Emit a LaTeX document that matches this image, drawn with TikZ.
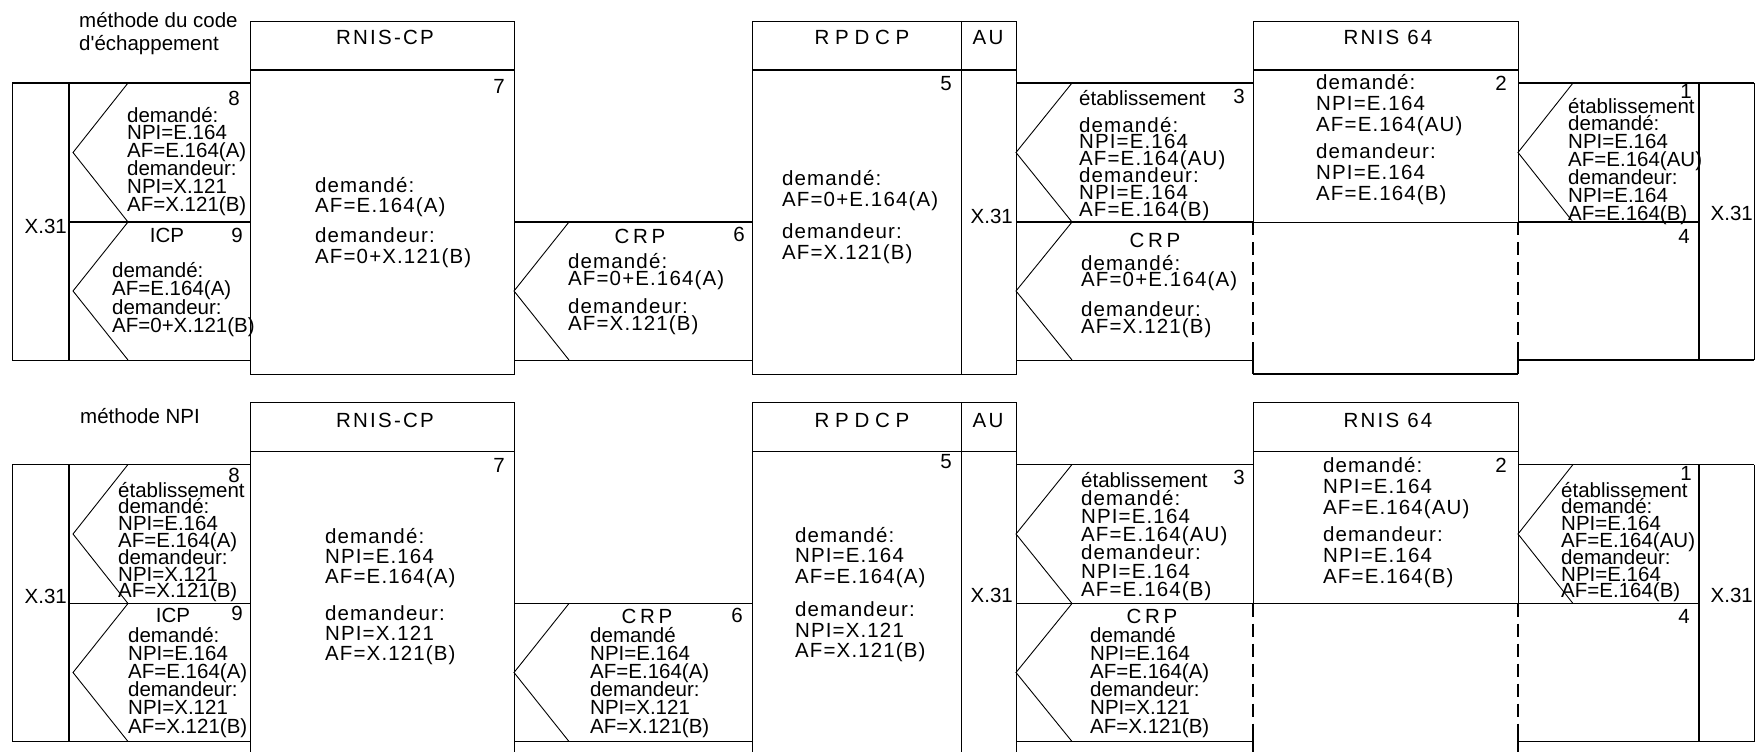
\documentclass[tikz,border=0pt]{standalone}
\usepackage{fontspec}
\setmainfont{Liberation Sans}
\newfontfamily\plainf{Liberation Sans}
\newfontfamily\spfont[LetterSpace=5.5]{Liberation Sans}
\newfontfamily\hdA[LetterSpace=11]{Liberation Sans}
\newfontfamily\hdB[LetterSpace=28]{Liberation Sans}
\newfontfamily\hdC[LetterSpace=18]{Liberation Sans}
\newcommand\blk[2]{\vtop{\baselineskip=#1pt\lineskiplimit=-100pt\lineskip=0pt\relax #2}}
\newcommand\rl[1]{\hbox{#1}}
\tikzset{
  thinl/.style={line width=0.9pt},
  thickl/.style={line width=1.5pt},
  dashl/.style={line width=1.3pt, dash pattern=on 13pt off 7pt},
  nt/.style={inner sep=0pt, anchor=base west, font=\fontsize{20.5}{20}\selectfont},
  ntr/.style={nt, anchor=base east},
  ntc/.style={nt, anchor=base},
  st/.style={nt, font=\fontsize{20.5}{20}\selectfont\spfont},
}
\newcommand\panelframe{%
  % left section
  \draw[thinl] (12,83) -- (12,360);
  \draw[thickl] (12,83) -- (250,83);
  \draw[thinl] (12,360) -- (250,360);
  \draw[thickl] (69,83) -- (69,360);
  \draw[thickl] (69,222) -- (250,222);
  \draw[thinl] (128,83) -- (73,152.5) -- (128,222) -- (73,291) -- (128,360);
  % RNIS-CP
  \draw[thinl] (250,21) rectangle (514,374);
  \draw[thickl] (250,70) -- (514,70);
  % CRP 6
  \draw[thickl] (514,222) -- (752,222);
  \draw[thinl] (514,360) -- (752,360);
  \draw[thinl] (569,222) -- (514,291) -- (569,360);
  % RPDCP + AU
  \draw[thinl] (752,21) rectangle (1016,374);
  \draw[thinl] (961,21) -- (961,374);
  \draw[thickl] (752,70) -- (1016,70);
  % region 3
  \draw[thickl] (1016,83) -- (1253,83);
  \draw[thickl] (1016,222) -- (1253,222);
  \draw[thinl] (1016,360) -- (1253,360);
  \draw[thinl] (1072,83) -- (1016,152.5) -- (1072,222) -- (1016,291) -- (1072,360);
  % RNIS 64
  \draw[thinl] (1253,222) -- (1253,21) -- (1518,21) -- (1518,222);
  \draw[thickl] (1253,70) -- (1518,70);
  \draw[thinl] (1253,222) -- (1518,222);
  \draw[dashl] (1253,222) -- (1253,347);
  \draw[thickl] (1253,347) -- (1253,374);
  \draw[dashl] (1518,222) -- (1518,347);
  \draw[thickl] (1518,347) -- (1518,374);
  \draw[thickl] (1253,374) -- (1518,374);
  % right section
  \draw[thickl] (1518,83) -- (1754,83);
  \draw[thinl] (1754,83) -- (1754,360);
  \draw[thickl] (1699,83) -- (1699,360);
  \draw[thickl] (1518,222) -- (1699,222);
  \draw[thickl] (1518,360) -- (1754,360);
  \draw[thinl] (1573,83) -- (1518,152.5) -- (1573,222);
}
\begin{document}
\begin{tikzpicture}[x=1pt,y=-1pt]
\useasboundingbox (0,0) rectangle (1756,752);
\begin{scope}
\clip (0,0) rectangle (1756,752);
\panelframe
\begin{scope}[yshift=-381.5pt]
\panelframe
\end{scope}
\end{scope}

% ================= TOP PANEL =================
\node[nt] (ttitle) at (79,28) {\plainf\blk{23}{\rl{méthode du code}\rl{d'échappement}}};
\node[ntc] (th1) at (385,45) {\hdA RNIS-CP};
\node[ntc] (th2) at (862,45) {\hdB RPDCP};
\node[ntc] (th3) at (988,45) {\hdA AU};
\node[ntc] (th4) at (1388,45) {\hdA RNIS 64};

\node[ntr] (tx1) at (67,233) {X.31};
\node[ntr] (tn8) at (240,105) {8};
\node[nt] (tb8) at (127,122) {\blk{17.8}{\rl{demandé:}\rl{NPI=E.164}\rl{AF=E.164(A)}\rl{demandeur:}\rl{NPI=X.121}\rl{AF=X.121(B)}}};
\node[ntc] (ticp) at (167,242) {ICP};
\node[ntr] (tn9) at (243,242) {9};
\node[nt] (tb9) at (112,277) {\blk{18.6}{\rl{demandé:}\rl{AF=E.164(A)}\rl{demandeur:}\rl{AF=0+X.121(B)}}};

\node[ntr] (tn7) at (505,93) {7};
\node[st] (tb7) at (315,192) {\blk{20.5}{\rl{demandé:}\rl{AF=E.164(A)}\vskip9.5pt\rl{demandeur:}\rl{AF=0+X.121(B)}}};

\node[ntc] (tcrp6) at (640,243) {\hdC CRP};
\node[ntr] (tn6) at (745,241) {6};
\node[st] (tb6) at (568,268) {\blk{17}{\rl{demandé:}\rl{AF=0+E.164(A)}\vskip11pt\rl{demandeur:}\rl{AF=X.121(B)}}};

\node[ntr] (tn5) at (952,90) {5};
\node[st] (tb5) at (782,185) {\blk{21}{\rl{demandé:}\rl{AF=0+E.164(A)}\vskip11pt\rl{demandeur:}\rl{AF=X.121(B)}}};
\node[ntr] (tx2) at (1013,223) {X.31};

\node[nt] (tet3) at (1079,106) {établissement};
\node[ntr] (tn3) at (1245,103) {3};
\node[st] (tb3) at (1079,132) {\blk{16.8}{\rl{demandé:}\rl{NPI=E.164}\rl{AF=E.164(AU)}\rl{demandeur:}\rl{NPI=E.164}\rl{AF=E.164(B)}}};
\node[ntc] (tcrp3) at (1155,247) {\hdC CRP};
\node[st] (tb4) at (1081,270) {\blk{16.5}{\rl{demandé:}\rl{AF=0+E.164(A)}\vskip13.5pt\rl{demandeur:}\rl{AF=X.121(B)}}};

\node[ntr] (tn2) at (1507,90) {2};
\node[st] (tb2) at (1316,89) {\blk{21}{\rl{demandé:}\rl{NPI=E.164}\rl{AF=E.164(AU)}\vskip6pt\rl{demandeur:}\rl{NPI=E.164}\rl{AF=E.164(B)}}};

\node[ntr] (tn1) at (1692,99) {1};
\node[nt] (tb1) at (1568,113) {\blk{17.9}{\rl{établissement}\rl{demandé:}\rl{NPI=E.164}\rl{AF=E.164(AU)}\rl{demandeur:}\rl{NPI=E.164}\rl{AF=E.164(B)}}};
\node[ntr] (tx3) at (1753,220) {X.31};
\node[ntr] (tn4) at (1690,243) {4};

% ================= BOTTOM PANEL =================
\node[nt] (btitle) at (80,423) {méthode NPI};
\node[ntc] (bh1) at (385,427) {\hdA RNIS-CP};
\node[ntc] (bh2) at (862,427) {\hdB RPDCP};
\node[ntc] (bh3) at (988,427) {\hdA AU};
\node[ntc] (bh4) at (1388,427) {\hdA RNIS 64};

\node[ntr] (bx1) at (67,603) {X.31};
\node[ntr] (bn8) at (240,482) {8};
\node[nt] (bb8) at (118,497) {\blk{16.8}{\rl{établissement}\rl{demandé:}\rl{NPI=E.164}\rl{AF=E.164(A)}\rl{demandeur:}\rl{NPI=X.121}\rl{AF=X.121(B)}}};
\node[ntc] (bicp) at (173,622) {ICP};
\node[ntr] (bn9) at (243,620) {9};
\node[nt] (bb9) at (128,642) {\blk{18.2}{\rl{demandé:}\rl{NPI=E.164}\rl{AF=E.164(A)}\rl{demandeur:}\rl{NPI=X.121}\rl{AF=X.121(B)}}};

\node[ntr] (bn7) at (505,472) {7};
\node[st] (bb7) at (325,543) {\blk{20}{\rl{demandé:}\rl{NPI=E.164}\rl{AF=E.164(A)}\vskip17pt\rl{demandeur:}\rl{NPI=X.121}\rl{AF=X.121(B)}}};

\node[ntc] (bcrp6) at (647,623) {\hdC CRP};
\node[ntr] (bn6) at (743,622) {6};
\node[nt] (bb6) at (590,642) {\blk{18.2}{\rl{demandé}\rl{NPI=E.164}\rl{AF=E.164(A)}\rl{demandeur:}\rl{NPI=X.121}\rl{AF=X.121(B)}}};

\node[ntr] (bn5) at (952,468) {5};
\node[st] (bb5) at (795,542) {\blk{20.5}{\rl{demandé:}\rl{NPI=E.164}\rl{AF=E.164(A)}\vskip13pt\rl{demandeur:}\rl{NPI=X.121}\rl{AF=X.121(B)}}};
\node[ntr] (bx2) at (1013,602) {X.31};

\node[ntr] (bn3) at (1245,484) {3};
\node[nt] (bb3) at (1081,487) {\blk{18.2}{\rl{établissement}\spfont\rl{demandé:}\rl{NPI=E.164}\rl{AF=E.164(AU)}\rl{demandeur:}\rl{NPI=E.164}\rl{AF=E.164(B)}}};
\node[ntc] (bcrp3) at (1152,623) {\hdC CRP};
\node[nt] (bb4) at (1090,642) {\blk{18.2}{\rl{demandé}\rl{NPI=E.164}\rl{AF=E.164(A)}\rl{demandeur:}\rl{NPI=X.121}\rl{AF=X.121(B)}}};

\node[ntr] (bn2) at (1507,472) {2};
\node[st] (bb2) at (1323,472) {\blk{21}{\rl{demandé:}\rl{NPI=E.164}\rl{AF=E.164(AU)}\vskip6pt\rl{demandeur:}\rl{NPI=E.164}\rl{AF=E.164(B)}}};

\node[ntr] (bn1) at (1692,480) {1};
\node[nt] (bb1) at (1561,497) {\blk{16.8}{\rl{établissement}\rl{demandé:}\rl{NPI=E.164}\rl{AF=E.164(AU)}\rl{demandeur:}\rl{NPI=E.164}\rl{AF=E.164(B)}}};
\node[ntr] (bx3) at (1753,602) {X.31};
\node[ntr] (bn4) at (1690,623) {4};
\end{tikzpicture}
\end{document}
